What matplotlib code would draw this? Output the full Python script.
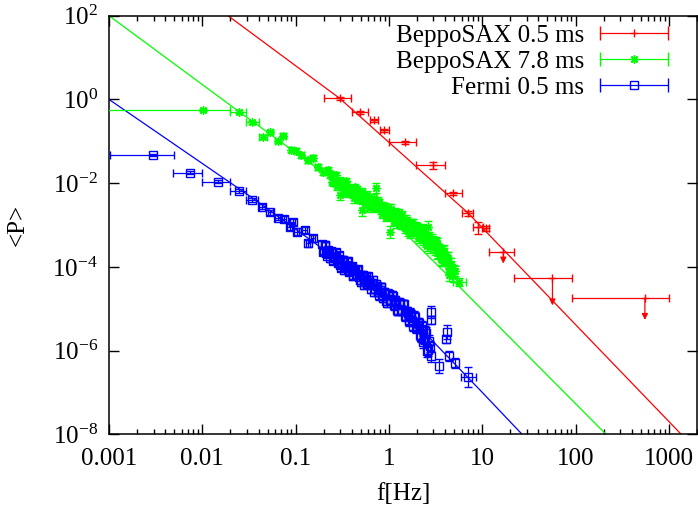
import numpy as np
import matplotlib
matplotlib.use("Agg")
import matplotlib.pyplot as plt
from matplotlib.legend_handler import HandlerErrorbar
from matplotlib.container import ErrorbarContainer

plt.rcParams['font.family'] = ['Liberation Serif', 'DejaVu Serif']
plt.rcParams['mathtext.fontset'] = 'custom'
plt.rcParams['mathtext.rm'] = 'Liberation Serif'
plt.rcParams['mathtext.it'] = 'Liberation Serif:italic'
plt.rcParams['mathtext.bf'] = 'Liberation Serif:bold'

# ---------------- data ----------------
# BeppoSAX 0.5 ms (red)
red_f = [0.296, 0.492, 0.70, 0.895, 1.47, 2.94, 4.90, 6.96, 9.06, 10.9]
red_p = [1.06, 0.49, 0.32, 0.186, 0.094, 0.027, 0.0057, 0.0019, 8.8e-4, 8.3e-4]
red_f_lo = [0.201, 0.40, 0.62, 0.81, 1.0, 1.97, 4.0, 6.0, 7.9, 9.9]
red_f_hi = [0.394, 0.593, 0.77, 0.99, 1.97, 4.0, 6.0, 7.9, 10.1, 11.9]
red_p_lo = [0.98, 0.45, 0.29, 0.17, 0.086, 0.022, 0.0051, 0.0016, 6.1e-4, 7.3e-4]
red_p_hi = [1.14, 0.53, 0.35, 0.20, 0.102, 0.032, 0.0063, 0.0022, 1.2e-3, 9.3e-4]
# upper limits (red)
red_ul_f = [16.8, 56.5, 553.0]
red_ul_p = [2.3e-4, 5.3e-5, 1.77e-5]
red_ul_f_lo = [11.9, 22.1, 92.0]
red_ul_f_hi = [22.1, 92.0, 1000.0]
red_ul_arrow_to = [1.2e-4, 1.2e-5, 5.4e-6]

# BeppoSAX 7.8 ms (green) - low-frequency points with frequency bins
green_sp_f = [0.0102, 0.0247, 0.0344, 0.0447, 0.0536, 0.0647, 0.0731, 0.0899, 0.101, 0.115,
              0.135, 0.153, 0.173, 0.196, 0.222, 5.68]
green_sp_p = [0.56, 0.51, 0.284, 0.129, 0.169, 0.103, 0.134, 0.062, 0.0596, 0.047,
              0.0357, 0.039, 0.0247, 0.0188, 0.0206, 4.4e-5]
green_sp_f_lo = [0.0007, 0.0197, 0.0297, 0.0403, 0.050, 0.060, 0.068, 0.084, 0.095, 0.108,
                 0.127, 0.144, 0.163, 0.185, 0.210, 4.84]
green_sp_f_hi = [0.0197, 0.0296, 0.0405, 0.0493, 0.0575, 0.069, 0.078, 0.096, 0.107, 0.122,
                 0.143, 0.162, 0.183, 0.207, 0.235, 6.73]
green_sp_dex = [0.02, 0.03, 0.04, 0.05, 0.05, 0.05, 0.06, 0.06, 0.06, 0.07,
                0.07, 0.07, 0.07, 0.08, 0.08, 0.10]
# green dense band (log10 f, log10 P, log10 half error)
green_logf = [-0.63, -0.60, -0.57, -0.54, -0.523, -0.51, -0.48, -0.45, -0.42, -0.39,
              -0.36, -0.33, -0.30, -0.287, -0.27, -0.24, -0.21, -0.18, -0.15, -0.144,
              -0.12, -0.09, -0.06, -0.03, -0.01, 0.01, 0.013, 0.03, 0.05, 0.07,
              0.09, 0.11, 0.13, 0.15, 0.17, 0.19, 0.21, 0.23, 0.25, 0.27,
              0.29, 0.31, 0.33, 0.35, 0.37, 0.39, 0.41, 0.415, 0.43, 0.45,
              0.47, 0.49, 0.51, 0.53, 0.55, 0.57, 0.59, 0.594, 0.61, 0.63,
              0.647, 0.65, 0.67, 0.69, 0.71]
green_logp = [-1.80, -2.00, -1.81, -2.03, -2.283, -2.01, -2.22, -2.02, -2.15, -2.26,
              -2.09, -2.39, -2.26, -2.64, -2.37, -2.28, -2.59, -2.44, -2.59, -2.12,
              -2.42, -2.63, -2.54, -2.80, -2.59, -2.78, -3.16, -2.72, -2.91, -2.72,
              -2.85, -2.71, -2.98, -2.88, -3.07, -2.91, -3.01, -3.21, -2.95, -3.15,
              -3.04, -3.27, -3.18, -3.09, -3.35, -3.26, -3.49, -3.04, -3.28, -3.44,
              -3.38, -3.60, -3.43, -3.67, -3.65, -3.84, -3.68, -3.638, -3.86, -3.78,
              -4.195, -4.04, -4.00, -4.21, -4.10]
green_dex = [0.08, 0.08, 0.08, 0.08, 0.13, 0.08, 0.09, 0.08, 0.08, 0.09,
             0.08, 0.09, 0.09, 0.14, 0.09, 0.09, 0.10, 0.09, 0.10, 0.12,
             0.09, 0.10, 0.09, 0.10, 0.09, 0.10, 0.14, 0.10, 0.10, 0.10,
             0.10, 0.10, 0.11, 0.10, 0.11, 0.10, 0.11, 0.11, 0.10, 0.11,
             0.11, 0.11, 0.11, 0.11, 0.12, 0.11, 0.12, 0.14, 0.11, 0.12,
             0.12, 0.12, 0.12, 0.13, 0.12, 0.13, 0.12, 0.15, 0.13, 0.13,
             0.14, 0.13, 0.13, 0.14, 0.13]
green2_logf = [-0.615, -0.585, -0.555, -0.525, -0.495, -0.465, -0.435, -0.405, -0.375, -0.345,
               -0.315, -0.285, -0.255, -0.225, -0.195, -0.165, -0.135, -0.105, -0.075, -0.045,
               0.00, 0.02, 0.04, 0.06, 0.08, 0.10, 0.12, 0.14, 0.16, 0.18,
               0.20, 0.22, 0.24, 0.26, 0.28, 0.30, 0.32, 0.34, 0.36, 0.38,
               0.40, 0.42, 0.44, 0.46, 0.48, 0.50, 0.52, 0.54, 0.56, 0.58,
               0.60, 0.62, 0.64, 0.66, 0.68, 0.70]
green2_logp = [-1.97, -1.81, -2.08, -1.94, -2.08, -1.96, -2.23, -2.12, -2.36, -2.17,
               -2.35, -2.21, -2.48, -2.38, -2.52, -2.35, -2.57, -2.47, -2.73, -2.58,
               -2.79, -2.61, -2.78, -2.70, -2.95, -2.79, -2.97, -2.77, -2.98, -2.88,
               -3.15, -2.98, -3.14, -2.97, -3.14, -3.07, -3.30, -3.11, -3.30, -3.15,
               -3.41, -3.30, -3.53, -3.34, -3.52, -3.41, -3.68, -3.58, -3.82, -3.64,
               -3.85, -3.77, -4.03, -3.93, -4.11, -4.10]
green2_dex = [0.08, 0.08, 0.09, 0.08, 0.08, 0.09, 0.09, 0.08, 0.11, 0.09,
              0.09, 0.09, 0.10, 0.09, 0.10, 0.10, 0.10, 0.09, 0.11, 0.10,
              0.10, 0.10, 0.10, 0.10, 0.12, 0.10, 0.11, 0.10, 0.11, 0.11,
              0.12, 0.11, 0.11, 0.11, 0.11, 0.11, 0.12, 0.11, 0.12, 0.12,
              0.12, 0.12, 0.13, 0.12, 0.12, 0.12, 0.13, 0.13, 0.13, 0.13,
              0.13, 0.13, 0.14, 0.13, 0.14, 0.14]

# Fermi 0.5 ms (blue) - low-frequency points with frequency bins
blue_sp_f = [0.00298, 0.00734, 0.01476, 0.0245, 0.0344, 0.0436, 0.0536, 0.0647, 0.0744, 0.0863,
             0.0936, 0.103, 0.125, 0.136, 0.153, 7.08]
blue_sp_p = [0.047, 0.0177, 0.0108, 0.00649, 0.00395, 0.00273, 0.00201, 0.00149, 0.00137, 0.00091,
             0.0012, 0.00069, 0.00076, 0.000366, 0.00048, 2.38e-7]
blue_sp_f_lo = [0.00102, 0.0049, 0.0099, 0.0200, 0.0297, 0.040, 0.050, 0.060, 0.070, 0.081,
                0.088, 0.097, 0.118, 0.128, 0.145, 5.92]
blue_sp_f_hi = [0.00494, 0.0099, 0.0200, 0.0296, 0.0395, 0.047, 0.057, 0.069, 0.079, 0.092,
                0.099, 0.109, 0.132, 0.144, 0.161, 8.57]
blue_sp_dex = [0.03, 0.04, 0.04, 0.05, 0.05, 0.06, 0.06, 0.06, 0.07, 0.07,
               0.07, 0.08, 0.08, 0.08, 0.08, 0.24]
# blue dense band (log10 f, log10 P, log10 half error)
blue_logf = [-0.72, -0.70, -0.68, -0.66, -0.64, -0.62, -0.60, -0.58, -0.56, -0.54,
             -0.52, -0.50, -0.48, -0.46, -0.44, -0.42, -0.40, -0.38, -0.36, -0.34,
             -0.32, -0.30, -0.28, -0.26, -0.24, -0.22, -0.20, -0.18, -0.16, -0.14,
             -0.12, -0.10, -0.08, -0.06, -0.04, -0.02, 0.00, 0.02, 0.04, 0.06,
             0.08, 0.10, 0.12, 0.14, 0.16, 0.18, 0.20, 0.22, 0.24, 0.26,
             0.28, 0.30, 0.32, 0.34, 0.36, 0.38, 0.40, 0.42, 0.44,
             0.451, 0.451, 0.451, 0.540, 0.612, 0.618, 0.647, 0.711]
blue_logp = [-3.46, -3.62, -3.48, -3.73, -3.65, -3.61, -3.86, -3.73, -3.82, -3.72,
             -3.95, -3.84, -4.08, -3.96, -3.87, -4.09, -3.99, -4.21, -4.10, -4.07,
             -4.24, -4.37, -4.20, -4.30, -4.42, -4.23, -4.43, -4.38, -4.59, -4.41,
             -4.60, -4.55, -4.48, -4.74, -4.63, -4.86, -4.66, -4.78, -4.69, -4.90,
             -4.85, -5.05, -4.87, -5.04, -4.89, -5.17, -5.11, -5.28, -5.14, -5.42,
             -5.20, -5.41, -5.34, -5.67, -5.50, -5.72, -5.57, -5.99, -5.90,
             -5.071, -5.27, -6.14, -6.368, -5.73, -5.549, -6.13, -6.30]
blue_dex = [0.07, 0.07, 0.07, 0.07, 0.07, 0.07, 0.08, 0.07, 0.08, 0.07,
            0.08, 0.08, 0.08, 0.08, 0.08, 0.08, 0.08, 0.09, 0.08, 0.08,
            0.09, 0.09, 0.08, 0.09, 0.09, 0.09, 0.09, 0.09, 0.10, 0.09,
            0.10, 0.09, 0.09, 0.10, 0.10, 0.10, 0.10, 0.10, 0.10, 0.11,
            0.10, 0.11, 0.10, 0.11, 0.11, 0.11, 0.11, 0.12, 0.11, 0.12,
            0.12, 0.12, 0.12, 0.13, 0.12, 0.13, 0.13, 0.14, 0.13,
            0.14, 0.10, 0.13, 0.17, 0.10, 0.17, 0.12, 0.12]
blue2_logf = [-0.71, -0.69, -0.67, -0.65, -0.63, -0.61, -0.59, -0.57, -0.55, -0.53,
              -0.51, -0.49, -0.47, -0.45, -0.43, -0.41, -0.39, -0.37, -0.35, -0.33,
              -0.31, -0.29, -0.27, -0.25, -0.23, -0.21, -0.19, -0.17, -0.15, -0.13,
              -0.11, -0.09, -0.07, -0.05, -0.03, -0.01, 0.01, 0.03, 0.05, 0.07,
              0.09, 0.11, 0.13, 0.15, 0.17, 0.19, 0.21, 0.23, 0.25, 0.27,
              0.29, 0.31, 0.33, 0.35, 0.37, 0.39, 0.41, 0.43]
blue2_logp = [-3.64, -3.48, -3.66, -3.59, -3.80, -3.64, -3.77, -3.65, -3.90, -3.81,
              -4.02, -3.83, -4.00, -3.87, -4.12, -4.03, -4.21, -4.05, -4.18, -4.06,
              -4.31, -4.20, -4.43, -4.23, -4.41, -4.35, -4.53, -4.32, -4.52, -4.45,
              -4.68, -4.49, -4.69, -4.61, -4.81, -4.64, -4.78, -4.67, -4.92, -4.80,
              -5.04, -4.85, -5.03, -4.89, -5.17, -5.06, -5.30, -5.10, -5.29, -5.17,
              -5.46, -5.34, -5.62, -5.41, -5.80, -5.54, -6.01, -5.76]
blue2_dex = [0.07, 0.07, 0.07, 0.07, 0.08, 0.07, 0.08, 0.07, 0.08, 0.08,
             0.08, 0.08, 0.08, 0.08, 0.08, 0.08, 0.09, 0.08, 0.09, 0.08,
             0.09, 0.09, 0.09, 0.09, 0.09, 0.09, 0.10, 0.09, 0.10, 0.09,
             0.10, 0.10, 0.10, 0.10, 0.10, 0.10, 0.10, 0.10, 0.11, 0.10,
             0.11, 0.11, 0.11, 0.11, 0.12, 0.11, 0.12, 0.11, 0.12, 0.12,
             0.13, 0.12, 0.13, 0.12, 0.14, 0.13, 0.15, 0.13]

# fitted model curves (f, P knots)
red_fit_f = [0.01884, 0.296, 7.03, 1355.0]
red_fit_p = [100.0, 1.064, 1.94e-3, 1e-8]
green_fit_f = [0.001, 0.02477, 1.312, 5.675, 211.8]
green_fit_p = [100.0, 0.509, 8.4e-4, 3.36e-5, 1e-8]
blue_fit_f = [0.001, 0.0349, 1.113, 2.985, 9.46, 26.7]
blue_fit_p = [1.0, 0.00435, 1.61e-5, 1.63e-6, 1.14e-7, 1e-8]

x_tick_values = [0.001, 0.01, 0.1, 1, 10, 100, 1000]
x_tick_labels = ['0.001', '0.01', '0.1', '1', '10', '100', '1000']
y_tick_values = [1e-8, 1e-6, 1e-4, 1e-2, 1e0, 1e2]
y_tick_labels = ['10$^{-8}$', '10$^{-6}$', '10$^{-4}$', '10$^{-2}$', '10$^{0}$', '10$^{2}$']

labels = ['BeppoSAX 0.5 ms', 'BeppoSAX 7.8 ms', 'Fermi 0.5 ms']
colors = ['#ff0000', '#00ff00', '#0000ff']

# ---------------- figure ----------------
fig = plt.figure(figsize=(6.98, 5.13), dpi=100)
ax = fig.add_axes([109 / 698, (513 - 434.3) / 513, (697 - 109) / 698, (434.3 - 15.7) / 513])
ax.set_xscale('log')
ax.set_yscale('log')

lw = 0.9
cap = 3.0

# fit curves
ax.plot(red_fit_f, red_fit_p, color=colors[0], lw=lw, zorder=2)
ax.plot(green_fit_f, green_fit_p, color=colors[1], lw=lw, zorder=2)
ax.plot(blue_fit_f, blue_fit_p, color=colors[2], lw=lw, zorder=2)


def ebar(f, p, flo, fhi, plo, phi, color, marker, ms, mfc, label=None):
    f = np.asarray(f, float)
    p = np.asarray(p, float)
    xerr = None
    if flo is not None:
        xerr = [f - np.asarray(flo, float), np.asarray(fhi, float) - f]
    yerr = None
    if plo is not None:
        yerr = [p - np.asarray(plo, float), np.asarray(phi, float) - p]
    return ax.errorbar(f, p, xerr=xerr, yerr=yerr, marker=marker, linestyle='none', color=color,
                       ms=ms, mfc=mfc, mec=color, mew=1.0, elinewidth=lw, capsize=cap,
                       capthick=lw, zorder=3, label=label)


asterisk = (8, 2, 0)

# green
gsf = np.array(green_sp_f); gsp = np.array(green_sp_p); gsd = np.array(green_sp_dex)
ebar(gsf, gsp, green_sp_f_lo, green_sp_f_hi, gsp / 10 ** gsd, gsp * 10 ** gsd,
     colors[1], asterisk, 6, colors[1])
for lf, lp, dx in ((green_logf, green_logp, green_dex), (green2_logf, green2_logp, green2_dex)):
    gf = 10 ** np.array(lf); gp = 10 ** np.array(lp); gd = np.array(dx)
    ebar(gf, gp, None, None, gp / 10 ** gd, gp * 10 ** gd, colors[1], asterisk, 6, colors[1])

# blue
bsf = np.array(blue_sp_f); bsp = np.array(blue_sp_p); bsd = np.array(blue_sp_dex)
ebar(bsf, bsp, blue_sp_f_lo, blue_sp_f_hi, bsp / 10 ** bsd, bsp * 10 ** bsd,
     colors[2], 's', 5.5, 'none')
for lf, lp, dx in ((blue_logf, blue_logp, blue_dex), (blue2_logf, blue2_logp, blue2_dex)):
    bf = 10 ** np.array(lf); bp = 10 ** np.array(lp); bd = np.array(dx)
    ebar(bf, bp, None, None, bp / 10 ** bd, bp * 10 ** bd, colors[2], 's', 5.5, 'none')

# red
ebar(red_f, red_p, red_f_lo, red_f_hi, red_p_lo, red_p_hi, colors[0], '+', 6, colors[0])
ebar(red_ul_f, red_ul_p, red_ul_f_lo, red_ul_f_hi, None, None, colors[0], '+', 6, colors[0])
for f, p, p2 in zip(red_ul_f, red_ul_p, red_ul_arrow_to):
    ax.annotate('', xy=(f, p2), xytext=(f, p),
                arrowprops=dict(arrowstyle='-|>', color=colors[0], lw=lw,
                                shrinkA=0, shrinkB=0, mutation_scale=9))

# axes
ax.set_xlim(0.001, 2000)
ax.set_ylim(1e-8, 1e2)
ax.set_xticks(x_tick_values, x_tick_labels)
ax.set_yticks(y_tick_values, y_tick_labels)
ax.xaxis.set_minor_locator(matplotlib.ticker.LogLocator(base=10, subs=np.arange(2, 10), numticks=30))
ax.xaxis.set_minor_formatter(matplotlib.ticker.NullFormatter())
ax.yaxis.set_minor_locator(matplotlib.ticker.NullLocator())
ax.tick_params(which='both', direction='in', top=True, right=True, labelsize=18)
ax.tick_params(axis='x', which='major', length=7, width=1.0, pad=10)
ax.tick_params(axis='x', which='minor', length=3.5, width=1.0)
ax.tick_params(axis='y', which='major', length=7, width=1.0, pad=8)
for s in ax.spines.values():
    s.set_linewidth(1.1)

ax.set_xlabel('f[Hz]', fontsize=18, labelpad=9)
ax.set_ylabel('<P>', fontsize=18, labelpad=17)

# legend (gnuplot-style key: text right-aligned, x-errorbar sample)
handles = []
styles = [('+', 6, colors[0]), (asterisk, 6, colors[1]), ('s', 5.5, 'none')]
for lab, col, (mk, ms, mfc) in zip(labels, colors, styles):
    h = ax.errorbar([np.nan], [np.nan], xerr=[[1.0], [1.0]], marker=mk, linestyle='none',
                    color=col, ms=ms, mfc=mfc, mec=col, mew=1.0, elinewidth=lw,
                    capsize=cap * 1.6, capthick=lw, label=lab)
    handles.append(h)
hl = 2.72
leg = ax.legend(handles=handles, labels=labels, loc='upper right', frameon=False,
                markerfirst=False, fontsize=18, handlelength=hl, handletextpad=0.65,
                labelspacing=0.14, borderaxespad=0.0, borderpad=0.0,
                bbox_to_anchor=(0.9507, 0.980),
                handler_map={ErrorbarContainer: HandlerErrorbar(xerr_size=hl / 2, numpoints=1)})

fig.savefig('out.png', dpi=100)
